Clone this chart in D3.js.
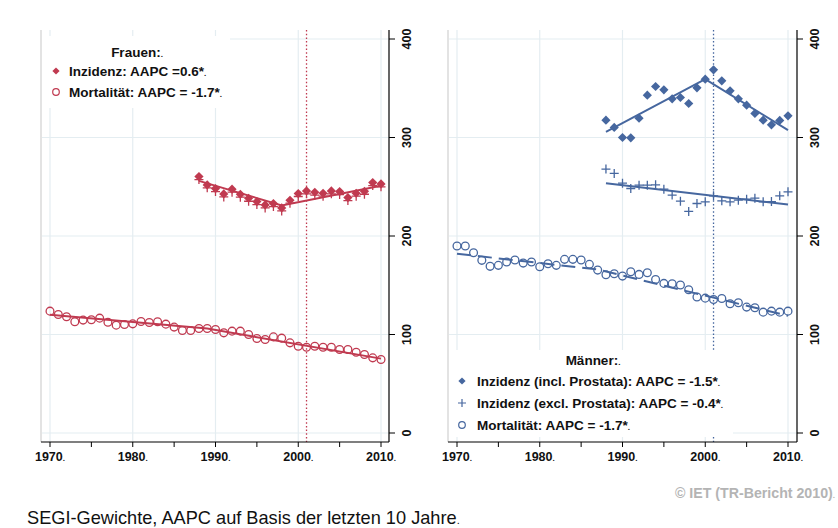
<!DOCTYPE html>
<html><head><meta charset="utf-8">
<script src="https://cdn.jsdelivr.net/npm/d3@7"></script>
<style>
body{margin:0;background:#fff;}
svg{display:block;font-family:"Liberation Sans",Arial,Helvetica,sans-serif;}
</style></head>
<body>
<svg id="c" width="838" height="528"></svg>
<script>
// ---------- DATA ----------
const yearsAll = [1970,1971,1972,1973,1974,1975,1976,1977,1978,1979,1980,1981,1982,1983,1984,1985,1986,1987,1988,1989,1990,1991,1992,1993,1994,1995,1996,1997,1998,1999,2000,2001,2002,2003,2004,2005,2006,2007,2008,2009,2010];
const yearsInc = [1988,1989,1990,1991,1992,1993,1994,1995,1996,1997,1998,1999,2000,2001,2002,2003,2004,2005,2006,2007,2008,2009,2010];

const womenMort = [123.7,120.3,118,112.9,114.6,114.9,116.6,112.5,109.5,110.2,110.8,113.2,112.2,112.9,110.5,107.5,104.1,104.1,106.1,106.1,105.1,101.7,103.4,103.4,100,95.9,94.9,97.6,96.3,91.5,88.1,87.1,88.1,87.1,87.1,84.7,84.7,82,79.7,76.3,74.6];
const womenInc = [260.3,251.9,248.1,242.7,247.5,242.4,238.3,234.9,231.5,232.9,228.5,236.3,243.1,245.8,244.4,243.4,245.8,245.1,239,243.4,245.4,254.2,252.9];
const womenIncExcl = [257.3,248.9,245.1,239.7,244.5,239.4,235.3,231.9,228.5,229.9,225.5,233.3,240.1,242.8,241.4,240.4,242.8,242.1,236,240.4,242.4,251.2,249.9];

const menInc = [317.6,310.2,300,299.7,319.6,343,351.8,348.4,339.3,340.6,334.5,350.4,359.2,368.7,357.5,347.4,339.3,332.8,324.4,317.6,312.9,317.3,322];
const menIncExcl = [267.9,263.5,253.6,248.2,251.6,251.6,252,247.5,241.5,235.4,224.9,233,234.7,240.8,235.7,234.7,236.4,237.4,238.4,234.7,235,240.8,244.8];
const menMort = [189.8,189.8,183,175.3,169.2,170.2,173.6,175.6,172.5,173.6,168.8,171.9,170.2,176.3,176.3,175.6,171.2,165.4,160.7,161.7,159.3,163.7,161,162.7,155.9,151.9,151.5,150.2,145.4,138,136.9,135.6,136.6,131.2,132.2,127.8,127.1,122.7,123.7,122.7,123.7];

// joinpoint fit lines
const womenIncFitYears = [1988,1998,2010], womenIncFitVals = [256,231,251];
const womenMortFitYears = [1970,1989,2010], womenMortFitVals = [120,106,75.5];
const menIncFitYears = [1988,2000,2010], menIncFitVals = [305.8,359.2,307.4];
const menExclFitYears = [1988,2010], menExclFitVals = [253.6,232];
const menMortFitYears = [1970,1987,2010], menMortFitVals = [182,166,119];

const xTicks = [1970,1980,1990,2000,2010];
const xMinorTicks = [1975,1985,1995,2005];
const yTicks = [0,100,200,300,400];
const refYear = 2001;

const womenLegend = ["Inzidenz: AAPC =0.6*", "Mortalität: AAPC = -1.7*"];
const menLegend = ["Inzidenz (incl. Prostata): AAPC = -1.5*", "Inzidenz (excl. Prostata): AAPC = -0.4*", "Mortalität: AAPC = -1.7*"];

// ---------- DRAW ----------
const RED = "#c03a50", BLUE = "#46679f", GRID = "#e4edf1";
const svg = d3.select("#c");
const y = d3.scaleLinear().domain([0,400]).range([433,39]);
const TOP = 30, BOT = 442;

function dotText(sel, str, size) {
  sel.append("tspan").text(str);
  sel.append("tspan").attr("font-size", Math.round(size*0.6)).text(".");
}

function panel(opts) {
  const x = d3.scaleLinear().domain([1970,2010]).range([opts.x0, opts.x1]);
  const g = svg.append("g");
  g.append("line").attr("x1",opts.left).attr("x2",opts.left).attr("y1",TOP).attr("y2",BOT)
    .attr("stroke","#dadada").attr("stroke-width",1.5);
  g.selectAll(".hg").data(yTicks).join("line")
    .attr("x1",opts.left+1).attr("x2",opts.right).attr("y1",d=>y(d)).attr("y2",d=>y(d))
    .attr("stroke",GRID).attr("stroke-width",1.2);
  g.selectAll(".vg").data(xTicks).join("line")
    .attr("x1",d=>x(d)).attr("x2",d=>x(d)).attr("y1",TOP).attr("y2",BOT)
    .attr("stroke",GRID).attr("stroke-width",1.2);
  g.append("line").attr("x1",x(refYear)).attr("x2",x(refYear)).attr("y1",TOP).attr("y2",BOT)
    .attr("stroke",opts.color).attr("stroke-width",1.3).attr("stroke-dasharray","1.5,2.2");
  g.append("rect").attr("x",opts.leg.x).attr("y",opts.leg.y).attr("width",opts.leg.w).attr("height",opts.leg.h).attr("fill","#fff");
  g.append("line").attr("x1",opts.left).attr("x2",opts.right).attr("y1",BOT).attr("y2",BOT).attr("stroke","#000").attr("stroke-width",1.2);
  g.append("line").attr("x1",opts.right).attr("x2",opts.right).attr("y1",TOP).attr("y2",BOT).attr("stroke","#000").attr("stroke-width",1.2);
  g.selectAll(".xt").data(xTicks.concat(xMinorTicks)).join("line")
    .attr("x1",d=>x(d)).attr("x2",d=>x(d)).attr("y1",BOT).attr("y2",BOT+5).attr("stroke","#000").attr("stroke-width",1);
  g.selectAll(".xl").data(xTicks).join("text")
    .attr("x",d=>x(d)).attr("y",BOT+19).attr("text-anchor","middle")
    .attr("font-size",12.5).attr("font-weight","bold").attr("fill","#111")
    .each(function(d){ dotText(d3.select(this), String(d), 12.5); });
  g.selectAll(".yt").data(yTicks).join("line")
    .attr("x1",opts.right).attr("x2",opts.right+6).attr("y1",d=>y(d)).attr("y2",d=>y(d)).attr("stroke","#000").attr("stroke-width",1);
  g.selectAll(".yl").data(yTicks).join("text")
    .attr("transform",d=>`translate(${opts.right+18},${y(d)}) rotate(-90)`)
    .attr("text-anchor","middle").attr("dominant-baseline","central")
    .attr("font-size",12.5).attr("font-weight","bold").attr("fill","#111").text(d=>d);
  return {x, g};
}

const line = (x) => d3.line().x(d=>x(d[0])).y(d=>y(d[1]));
const zip = (a,b) => a.map((v,i)=>[v,b[i]]);
const diamond = (s) => `M0,${-s}L${s},0L0,${s}L${-s},0Z`;

function drawDiamonds(g,x,yrs,vals,color){
  g.selectAll(null).data(zip(yrs,vals)).join("path")
    .attr("transform",d=>`translate(${x(d[0])},${y(d[1])})`).attr("d",diamond(4.6)).attr("fill",color);
}
function drawPlus(g,x,yrs,vals,color){
  g.selectAll(null).data(zip(yrs,vals)).join("path")
    .attr("transform",d=>`translate(${x(d[0])},${y(d[1])})`).attr("d","M-4.5,0H4.5M0,-4.5V4.5")
    .attr("stroke",color).attr("stroke-width",1.3).attr("fill","none");
}
function drawCircles(g,x,yrs,vals,color){
  g.selectAll(null).data(zip(yrs,vals)).join("circle")
    .attr("cx",d=>x(d[0])).attr("cy",d=>y(d[1])).attr("r",3.9)
    .attr("fill","none").attr("stroke",color).attr("stroke-width",1.3);
}
function drawFit(g,x,yrs,vals,color,dash){
  g.append("path").attr("d",line(x)(zip(yrs,vals))).attr("fill","none")
    .attr("stroke",color).attr("stroke-width",2).attr("stroke-dasharray",dash||null);
}

// Left panel: Frauen
const L = panel({x0:50,x1:381,left:41,right:389,color:RED,leg:{x:42,y:36,w:188,h:72}});
drawFit(L.g,L.x,womenMortFitYears,womenMortFitVals,RED);
drawCircles(L.g,L.x,yearsAll,womenMort,RED);
drawFit(L.g,L.x,womenIncFitYears,womenIncFitVals,RED);
drawPlus(L.g,L.x,yearsInc,womenIncExcl,RED);
drawDiamonds(L.g,L.x,yearsInc,womenInc,RED);

// Right panel: Männer
const R = panel({x0:457,x1:788,left:448,right:797,color:BLUE,leg:{x:449,y:350,w:284,h:87}});
drawFit(R.g,R.x,menMortFitYears,menMortFitVals,BLUE,"14,7");
drawCircles(R.g,R.x,yearsAll,menMort,BLUE);
drawFit(R.g,R.x,menExclFitYears,menExclFitVals,BLUE);
drawPlus(R.g,R.x,yearsInc,menIncExcl,BLUE);
drawFit(R.g,R.x,menIncFitYears,menIncFitVals,BLUE);
drawDiamonds(R.g,R.x,yearsInc,menInc,BLUE);

// Legends
const LFS = 13.5;
function legendText(x,yb,str,anchor){
  const t = svg.append("text").attr("x",x).attr("y",yb).attr("font-size",LFS).attr("font-weight","bold")
    .attr("fill","#111").attr("text-anchor",anchor||"start");
  dotText(t,str,LFS);
}
legendText(137,57,"Frauen:","middle");
svg.append("path").attr("transform","translate(56,71)").attr("d",diamond(3.6)).attr("fill",RED);
legendText(69,76,womenLegend[0]);
svg.append("circle").attr("cx",56).attr("cy",92).attr("r",3.3).attr("fill","none").attr("stroke",RED).attr("stroke-width",1.2);
legendText(69,97,womenLegend[1]);

legendText(593,365,"Männer:","middle");
svg.append("path").attr("transform","translate(462,381)").attr("d",diamond(3.6)).attr("fill",BLUE);
legendText(477,386,menLegend[0]);
svg.append("path").attr("transform","translate(462,403)").attr("d","M-4,0H4M0,-4V4").attr("stroke",BLUE).attr("stroke-width",1.2);
legendText(477,408,menLegend[1]);
svg.append("circle").attr("cx",462).attr("cy",425).attr("r",3.3).attr("fill","none").attr("stroke",BLUE).attr("stroke-width",1.2);
legendText(477,430,menLegend[2]);

// Footer
const ft = svg.append("text").attr("x",27).attr("y",524).attr("font-size",18.2).attr("fill","#111");
dotText(ft,"SEGI-Gewichte, AAPC auf Basis der letzten 10 Jahre",18.2);
const cp = svg.append("text").attr("x",835).attr("y",498).attr("font-size",14.2).attr("font-weight","bold").attr("fill","#b4b4b4").attr("text-anchor","end");
cp.append("tspan").text("© IET (TR-Bericht 2010)");
cp.append("tspan").attr("font-size",8).text(".");
</script>
</body></html>
